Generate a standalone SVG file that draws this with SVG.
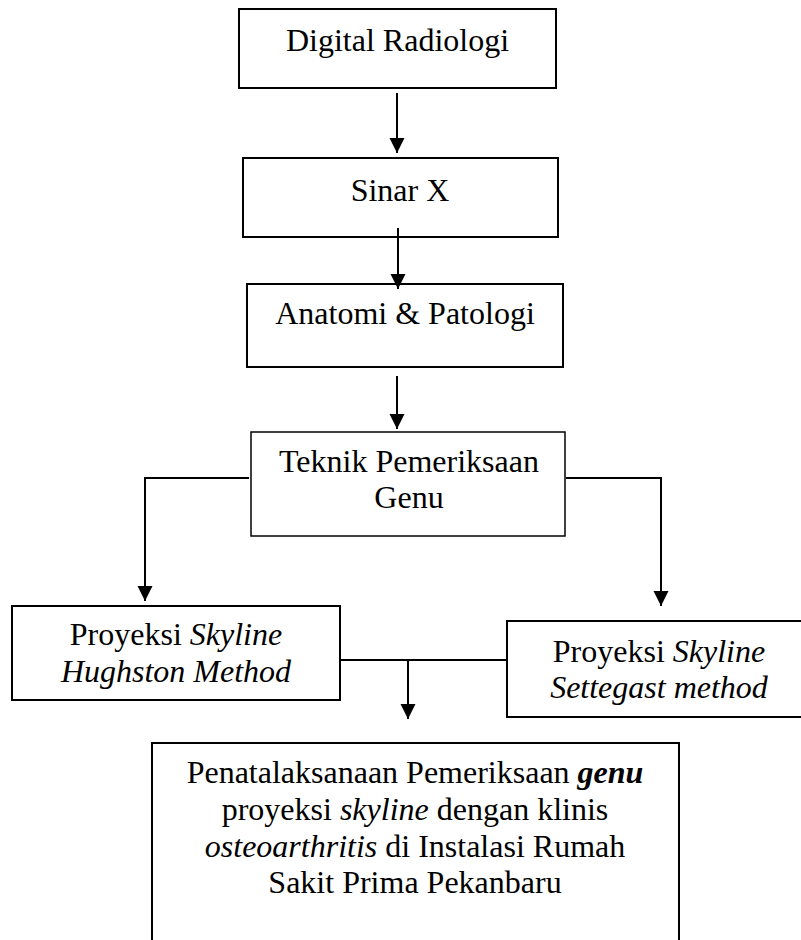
<svg xmlns="http://www.w3.org/2000/svg" width="801" height="940" viewBox="0 0 801 940">
<style>
.box{fill:#fff;stroke:#000;stroke-width:2}
.thin{stroke-width:1.5}
.t{font-family:"Liberation Serif","Times New Roman",serif;font-size:32px;fill:#000;text-anchor:middle}
.i{font-style:italic}
.bi{font-style:italic;font-weight:bold}
.c{fill:none;stroke:#000;stroke-width:2}
</style>
<defs>
<marker id="ah" markerUnits="userSpaceOnUse" markerWidth="16" markerHeight="16" refX="15" refY="7.5" orient="auto">
<path d="M0,0 L15,7.5 L0,15 z" fill="#000"/>
</marker>
</defs>
<rect width="801" height="940" fill="#fff"/>
<g id="digital-radiologi">
<rect class="box" x="239" y="9" width="317" height="79"/>
<text class="t" x="397.5" y="51">Digital Radiologi</text>
</g>
<g id="sinar-x">
<rect class="box" x="243" y="158" width="315" height="79"/>
<text class="t" x="400" y="201">Sinar X</text>
</g>
<g id="anatomi-patologi">
<rect class="box" x="247" y="284" width="316" height="83"/>
<text class="t" x="405" y="324">Anatomi &amp; Patologi</text>
</g>
<g id="teknik-pemeriksaan">
<rect class="box thin" x="251" y="432" width="314" height="104"/>
<text class="t" x="409" y="472">Teknik Pemeriksaan</text>
<text class="t" x="409" y="508">Genu</text>
</g>
<g id="hughston">
<rect class="box" x="12" y="606" width="328" height="94"/>
<text class="t" x="176" y="645">Proyeksi <tspan class="i">Skyline</tspan></text>
<text class="t i" x="176" y="682">Hughston Method</text>
</g>
<g id="settegast">
<rect class="box" x="507" y="621" width="305" height="96"/>
<text class="t" x="659" y="662">Proyeksi <tspan class="i">Skyline</tspan></text>
<text class="t i" x="659" y="698">Settegast method</text>
</g>
<g id="penatalaksanaan">
<path class="box" d="M152,950 V743 H679 V950"/>
<text class="t" x="415" y="783">Penatalaksanaan Pemeriksaan <tspan class="bi">genu</tspan></text>
<text class="t" x="415" y="820">proyeksi <tspan class="i">skyline</tspan> dengan klinis</text>
<text class="t" x="415" y="857"><tspan class="i">osteoarthritis</tspan> di Instalasi Rumah</text>
<text class="t" x="415" y="893">Sakit Prima Pekanbaru</text>
</g>
<g id="connectors">
<line class="c" x1="397" y1="93" x2="397" y2="153" marker-end="url(#ah)"/>
<line class="c" x1="398" y1="228" x2="398" y2="289" marker-end="url(#ah)"/>
<line class="c" x1="397" y1="376" x2="397" y2="429" marker-end="url(#ah)"/>
<path class="c" d="M249,478 H145 V601" marker-end="url(#ah)"/>
<path class="c" d="M566,478 H661 V606" marker-end="url(#ah)"/>
<path class="c" d="M340,660 H507"/>
<path class="c" d="M408,660 V719" marker-end="url(#ah)"/>
</g>
</svg>
